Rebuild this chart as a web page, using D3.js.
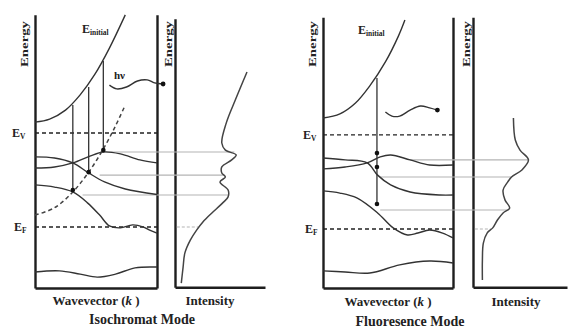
<!DOCTYPE html>
<html>
<head>
<meta charset="utf-8">
<script src="https://cdn.jsdelivr.net/npm/d3@7"></script>
<style>
body{margin:0;background:#fff}
text{font-family:"Liberation Serif","DejaVu Serif",serif;font-weight:bold;fill:#222}
</style>
</head>
<body>
<svg width="568" height="331"></svg>
<script>
// ---- data: [wavevector k (0..1), energy E (0..10)] ----
var isoInitial   = [[0,6.10],[0.12,6.21],[0.25,6.54],[0.37,7.10],[0.49,7.85],[0.61,8.82],[0.74,10.04]]
var isoBandA     = [[0,4.82],[0.16,4.78],[0.31,4.60],[0.44,4.23],[0.57,3.90],[0.74,3.64],[1,3.44]]
var isoBandB     = [[0,4.41],[0.16,4.45],[0.31,4.60],[0.45,4.85],[0.56,5.0],[0.70,4.93],[0.86,4.71],[1,4.60]]
var isoBandC     = [[0,3.79],[0.16,3.71],[0.31,3.53],[0.43,3.13],[0.53,2.68],[0.61,2.28],[0.70,2.21],[0.80,2.32],[0.89,2.24],[0.94,2.13],[1,2.02]]
var isoBandD     = [[0,0.59],[0.2,0.63],[0.37,0.51],[0.51,0.40],[0.66,0.51],[0.82,0.74],[1,0.77]]
var isoDashed    = [[0,2.68],[0.16,2.95],[0.31,3.53],[0.44,4.26],[0.56,5.11],[0.66,5.96],[0.74,6.73]]
var isoPhoton    = [[0.61,7.46],[0.67,7.32],[0.75,7.39],[0.84,7.61],[0.92,7.65],[0.98,7.54],[1.05,7.50]]
var isoTransK    = [0.31,0.44,0.56]
var isoTransTop  = [6.73,7.39,8.35]
var isoTransBot  = [3.60,4.26,5.07]
var isoLevels    = [5.0,4.15,3.42]      // gray guide lines
var isoLevelFrom = [0.56,0.53,0.39]
var isoLevelTo   = [0.66,0.54,0.59]     // intensity where the guide ends
var isoIntensity = [[0.80,7.94],[0.67,6.91],[0.57,6.07],[0.52,5.33],[0.56,5.07],[0.68,4.89],[0.63,4.71],[0.52,4.45],[0.52,4.23],[0.56,4.08],[0.50,3.90],[0.59,3.60],[0.59,3.35],[0.53,3.13],[0.41,2.76],[0.31,2.43],[0.24,2.13],[0.17,1.76],[0.11,1.29],[0.09,0.77],[0.07,0.18]]
var isoEV = 5.70, isoEF = 2.24, isoFermiI = 0.26

var fluInitial   = [[0,6.25],[0.13,6.40],[0.25,6.80],[0.36,7.43],[0.48,8.31],[0.58,9.26],[0.63,9.85]]
var fluBandA     = [[0,4.78],[0.17,4.71],[0.34,4.60],[0.42,4.15],[0.52,3.79],[0.67,3.53],[0.90,3.42],[1,3.42]]
var fluBandB     = [[0,4.38],[0.17,4.45],[0.34,4.60],[0.44,4.82],[0.52,4.89],[0.67,4.71],[0.82,4.52],[1,4.52]]
var fluBandC     = [[0,3.57],[0.13,3.49],[0.26,3.31],[0.42,2.76],[0.54,2.21],[0.65,1.95],[0.73,2.02],[0.82,2.13],[0.92,2.02],[1,1.84]]
var fluBandD     = [[0,0.63],[0.17,0.59],[0.36,0.55],[0.59,0.85],[0.82,0.99],[1,0.92]]
var fluPhoton    = [[0.48,6.47],[0.53,6.32],[0.59,6.32],[0.67,6.54],[0.75,6.69],[0.82,6.62],[0.88,6.54]]
var fluTransK    = [0.415]
var fluTransTop  = [7.72]
var fluTransBot  = [3.09]
var fluTransDots = [4.96,4.45,3.09]
var fluLevels    = [4.71,4.08,2.87]
var fluLevelFrom = [0.67,0.44,0.44]
var fluLevelTo   = [0.59,0.41,0.38]
var fluIntensity = [[0.43,6.25],[0.45,5.44],[0.50,5.07],[0.59,4.71],[0.52,4.34],[0.41,4.08],[0.37,3.90],[0.32,3.60],[0.34,3.24],[0.39,2.94],[0.32,2.76],[0.26,2.50],[0.21,2.21],[0.15,2.02],[0.11,1.65],[0.10,1.03],[0.10,0.29]]
var fluEV = 5.63, fluEF = 2.17, fluFermiI = 0.19

var svg = d3.select("svg")
var yScale = d3.scaleLinear().domain([0,10]).range([288,16])

var drawPanel = function(p)
{
    var k = d3.scaleLinear().domain([0,1]).range(p.kRange)
    var inten = d3.scaleLinear().domain([0,1]).range(p.iRange)
    var g = svg.append("g")
    var curve = d3.line().x(function(d){return k(d[0])}).y(function(d){return yScale(d[1])}).curve(d3.curveCatmullRom)
    var icurve = d3.line().x(function(d){return inten(d[0])}).y(function(d){return yScale(d[1])}).curve(d3.curveCatmullRom)

    // box axes of the band panel (no ticks)
    var boxY = d3.scaleLinear().domain([0,p.boxTop]).range([yScale(0),yScale(p.boxTop)])
    g.append("g").attr("transform","translate("+k(0)+",0)").call(d3.axisLeft(boxY).tickValues([]).tickSizeOuter(0))
    g.append("g").attr("transform","translate("+k(1)+",0)").call(d3.axisRight(boxY).tickValues([]).tickSizeOuter(0))
    g.append("g").attr("transform","translate(0,"+yScale(0)+")").call(d3.axisBottom(k).tickValues([]).tickSizeOuter(0))
    // intensity axes
    var intY = d3.scaleLinear().domain([0,p.intTop]).range([yScale(0.03),yScale(p.intTop)])
    g.append("g").attr("transform","translate("+inten(0)+",0)").call(d3.axisLeft(intY).tickValues([]).tickSizeOuter(0))
    g.append("g").attr("transform","translate(0,"+yScale(0.03)+")").call(d3.axisBottom(inten).tickValues([]).tickSizeOuter(0))
    g.selectAll(".domain").attr("stroke","#1e1e1e").attr("stroke-width",2.4)

    // gray guide lines from band states to intensity features
    p.levels.forEach(function(e,i){
        g.append("line").attr("x1",k(p.levelFrom[i])).attr("x2",inten(p.levelTo[i]))
            .attr("y1",yScale(e)).attr("y2",yScale(e))
            .attr("stroke","#b4b4b4").attr("stroke-width",1.1)
    })
    g.append("line").attr("x1",inten(0.02)).attr("x2",inten(p.fermiI))
        .attr("y1",yScale(p.eF)).attr("y2",yScale(p.eF))
        .attr("stroke","#b4b4b4").attr("stroke-width",1.1).attr("stroke-dasharray","3,2")

    // E_V and E_F dashed levels
    ;[p.eV,p.eF].forEach(function(e){
        g.append("line").attr("x1",k(0)).attr("x2",k(1)).attr("y1",yScale(e)).attr("y2",yScale(e))
            .attr("stroke","#222").attr("stroke-width",1.4).attr("stroke-dasharray","4,3")
    })

    // bands
    p.bands.forEach(function(b){
        g.append("path").attr("d",curve(b)).attr("fill","none").attr("stroke","#333").attr("stroke-width",1.4)
    })
    // initial state parabola
    g.append("path").attr("d",curve(p.initial)).attr("fill","none").attr("stroke","#333").attr("stroke-width",1.4)
    if(p.dashed)
        g.append("path").attr("d",curve(p.dashed)).attr("fill","none").attr("stroke","#444")
            .attr("stroke-width",1.5).attr("stroke-dasharray","4,3")

    // transitions
    p.transK.forEach(function(t,i){
        g.append("line").attr("x1",k(t)).attr("x2",k(t))
            .attr("y1",yScale(p.transTop[i])).attr("y2",yScale(p.transBot[i]))
            .attr("stroke","#333").attr("stroke-width",1.3)
    })
    p.dots.forEach(function(d){
        g.append("circle").attr("cx",k(d[0])).attr("cy",yScale(d[1])).attr("r",2.3).attr("fill","#111")
    })

    // photon wavy arrow
    g.append("path").attr("d",curve(p.photon)).attr("fill","none").attr("stroke","#333").attr("stroke-width",1.4)
    var last = p.photon[p.photon.length-1]
    g.append("circle").attr("cx",k(last[0])).attr("cy",yScale(last[1])).attr("r",2.4).attr("fill","#111")

    // intensity spectrum
    g.append("path").attr("d",icurve(p.intensity)).attr("fill","none").attr("stroke","#444").attr("stroke-width",1.5)

    // labels
    var energy = function(x){
        g.append("text").attr("transform","translate("+x+",44) rotate(-90)")
            .attr("text-anchor","middle").attr("font-size",10)
            .attr("textLength",46).attr("lengthAdjust","spacingAndGlyphs").text("Energy")
    }
    energy(k(0)-7); energy(inten(0)-3)

    var sub = function(x,y,main,s,size){
        var t = g.append("text").attr("x",x).attr("y",y).attr("font-size",size)
        t.append("tspan").text(main)
        t.append("tspan").attr("font-size",size*0.62).attr("dy",2).text(s)
    }
    sub(p.eLabelX,yScale(p.eV)+4,"E","V",12)
    sub(p.eLabelX+2,yScale(p.eF)+4,"E","F",12)
    sub(p.initLabel[0],p.initLabel[1],"E","initial",12)
    if(p.hv) g.append("text").attr("x",p.hv[0]).attr("y",p.hv[1]).attr("font-size",11).text("hν")

    var wv = g.append("text").attr("x",(k(0)+k(1))/2).attr("y",p.labelY).attr("text-anchor","middle").attr("font-size",13)
    wv.append("tspan").text("Wavevector (")
    wv.append("tspan").attr("font-style","italic").text("k")
    wv.append("tspan").text(" )")
    g.append("text").attr("x",p.intLabelX).attr("y",p.labelY).attr("text-anchor","middle").attr("font-size",13).text("Intensity")
    g.append("text").attr("x",p.title[0]).attr("y",p.title[1]).attr("text-anchor","middle").attr("font-size",14).text(p.title[2])
}

drawPanel({
    kRange:[35,157], iRange:[175,265], boxTop:10.05, intTop:9.9,
    initial:isoInitial, bands:[isoBandA,isoBandB,isoBandC,isoBandD], dashed:isoDashed,
    photon:isoPhoton, transK:isoTransK, transTop:isoTransTop, transBot:isoTransBot,
    dots:isoTransK.map(function(t,i){return [t,isoTransBot[i]]}),
    levels:isoLevels, levelFrom:isoLevelFrom, levelTo:isoLevelTo,
    intensity:isoIntensity, eV:isoEV, eF:isoEF, fermiI:isoFermiI,
    eLabelX:12, initLabel:[82,33], hv:[114,79], labelY:305, intLabelX:210,
    title:[142,324,"Isochromat Mode"]
})
drawPanel({
    kRange:[323,453], iRange:[473,567], boxTop:9.95, intTop:9.95,
    initial:fluInitial, bands:[fluBandA,fluBandB,fluBandC,fluBandD], dashed:null,
    photon:fluPhoton, transK:fluTransK, transTop:fluTransTop, transBot:fluTransBot,
    dots:fluTransDots.map(function(e){return [fluTransK[0],e]}),
    levels:fluLevels, levelFrom:fluLevelFrom, levelTo:fluLevelTo,
    intensity:fluIntensity, eV:fluEV, eF:fluEF, fermiI:fluFermiI,
    eLabelX:303, initLabel:[358,34], hv:null, labelY:306, intLabelX:516,
    title:[410,326,"Fluoresence Mode"]
})
</script>
</body>
</html>
